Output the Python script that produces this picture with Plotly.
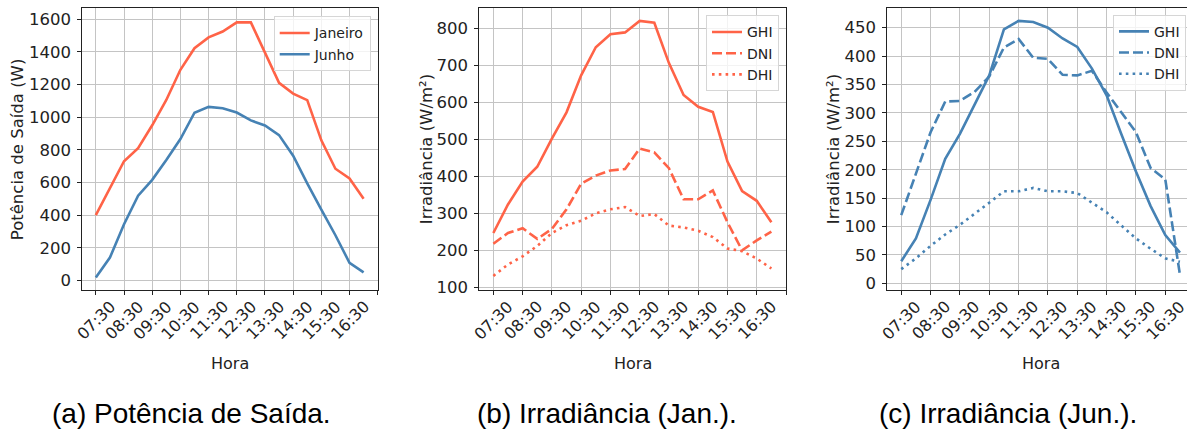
import plotly.graph_objects as go

# ---------------- data ----------------
horas = ["07:30", "08:00", "08:30", "09:00", "09:30", "10:00", "10:30", "11:00",
         "11:30", "12:00", "12:30", "13:00", "13:30", "14:00", "14:30", "15:00",
         "15:30", "16:00", "16:30", "17:00"]
tick_labels = ["07:30", "08:30", "09:30", "10:30", "11:30", "12:30", "13:30",
               "14:30", "15:30", "16:30"]

pot_janeiro = [400, 568, 730, 810, 950, 1105, 1290, 1422, 1488, 1524,
               1580, 1580, 1396, 1210, 1144, 1104, 858, 684, 624, 500]
pot_junho = [18, 140, 344, 519, 616, 737, 866, 1027, 1063, 1054,
             1028, 980, 949, 890, 764, 594, 434, 277, 108, 50]

jan_ghi = [247, 324, 386, 426, 502, 573, 673, 749, 784, 789,
           820, 815, 706, 620, 588, 574, 440, 360, 334, 276]
jan_dni = [218, 247, 260, 231, 258, 311, 380, 402, 416, 420,
           475, 465, 422, 338, 338, 362, 276, 200, 227, 251]
jan_dhi = [131, 162, 184, 212, 247, 268, 280, 300, 311, 317,
           293, 298, 267, 262, 253, 236, 205, 198, 178, 151]

jun_ghi = [39, 79, 147, 219, 263, 314, 366, 447, 462, 460,
           450, 431, 416, 378, 331, 263, 197, 136, 85, 54]
jun_dni = [120, 194, 266, 320, 321, 337, 364, 415, 430, 397,
           395, 367, 366, 374, 336, 301, 266, 203, 183, 15]
jun_dhi = [25, 44, 66, 86, 103, 122, 142, 162, 162, 168,
           162, 162, 159, 142, 125, 102, 79, 61, 44, 38]

captions = ["(a) Potência de Saída.", "(b) Irradiância (Jan.).", "(c) Irradiância (Jun.)."]
ytitles = ["Potência de Saída (W)", "Irradiância (W/m²)", "Irradiância (W/m²)"]

# ---------------- style ----------------
W, H = 1187, 439
RED = "#FF6347"
BLUE = "#4682B4"
FONT = "DejaVu Sans"
LW = 2.6
DASH = "10px,4px"
DOT = "2.6px,4.2px"

x = list(range(len(horas)))
tickvals = [horas.index(t) for t in tick_labels] + [len(horas)]


def px_x(p):
    return p / W


def px_y(p):
    return 1 - p / H


fig = go.Figure()

panels = [
    dict(xa="x", ya="y", leg="legend", series=[
        ("Janeiro", pot_janeiro, RED, "solid"),
        ("Junho", pot_junho, BLUE, "solid")]),
    dict(xa="x2", ya="y2", leg="legend2", series=[
        ("GHI", jan_ghi, RED, "solid"),
        ("DNI", jan_dni, RED, DASH),
        ("DHI", jan_dhi, RED, DOT)]),
    dict(xa="x3", ya="y3", leg="legend3", series=[
        ("GHI", jun_ghi, BLUE, "solid"),
        ("DNI", jun_dni, BLUE, DASH),
        ("DHI", jun_dhi, BLUE, DOT)]),
]

for p in panels:
    for name, vals, col, dash in p["series"]:
        fig.add_trace(go.Scatter(
            x=x, y=vals, name=name, mode="lines",
            line=dict(color=col, width=LW, dash=dash),
            xaxis=p["xa"], yaxis=p["ya"], legend=p["leg"],
        ))

# axis geometry (pixels)
x_dom = [(82.3, 377.7), (479.3, 786.0), (887.3, 1187.0)]
y_dom = [px_y(295.0), px_y(8.5)]
x_rng = [[-0.96, 20.0], [-0.96, 20.0], [-0.95, 19.48]]
y_rng = [[-56, 1666], [94, 854], [-11, 484]]
y_ticks = [list(range(0, 1601, 200)), list(range(100, 801, 100)), list(range(0, 451, 50))]

axis_common = dict(
    showline=True, linecolor="#222222", linewidth=1,
    ticks="outside", ticklen=4, tickwidth=1, tickcolor="#222222",
    showgrid=True, gridcolor="#c4c4c4", gridwidth=1, zeroline=False,
    tickfont=dict(family=FONT, size=16.5, color="#222222"),
)

for i in range(3):
    sx = "" if i == 0 else str(i + 1)
    fig.update_layout({
        "xaxis" + sx: dict(
            axis_common, domain=[px_x(x_dom[i][0]), px_x(x_dom[i][1])],
            range=x_rng[i], tickvals=tickvals, showticklabels=False,
            mirror=True, anchor="y" + sx),
        "yaxis" + sx: dict(
            axis_common, domain=y_dom, range=y_rng[i], tickvals=y_ticks[i],
            mirror=(i < 2), anchor="x" + sx, ticklabelstandoff=3),
    })

annotations = []
# rotated x tick labels (centred on tick as in the source)
for i in range(3):
    sx = "" if i == 0 else str(i + 1)
    for t in tick_labels:
        annotations.append(dict(
            x=horas.index(t), xref="x" + sx, y=px_y(326), yref="paper",
            text=t, showarrow=False, textangle=-45,
            xanchor="center", yanchor="middle",
            font=dict(family=FONT, size=16, color="#222222")))
    # x title
    cx = (x_dom[i][0] + (x_dom[i][1] if i < 2 else 1194.7)) / 2
    annotations.append(dict(
        x=px_x(cx), xref="paper", y=px_y(370), yref="paper", text="Hora",
        showarrow=False, xanchor="center", yanchor="middle",
        font=dict(family=FONT, size=16, color="#222222")))

# y titles
ytitle_x = [17, 426, 833]
for i in range(3):
    annotations.append(dict(
        x=px_x(ytitle_x[i]), xref="paper", y=px_y(152), yref="paper",
        text=ytitles[i], showarrow=False, textangle=-90,
        xanchor="center", yanchor="middle",
        font=dict(family=FONT, size=16.5, color="#222222")))

# captions
cap_x = [191.5, 606.5, 1008]
for i in range(3):
    annotations.append(dict(
        x=px_x(cap_x[i]), xref="paper", y=px_y(421), yref="paper",
        text=captions[i], showarrow=False, xanchor="center", yanchor="middle",
        font=dict(family="Liberation Sans", size=28, color="#000000")))

legend_common = dict(
    xanchor="right", yanchor="top", bgcolor="rgba(255,255,255,0.8)",
    bordercolor="#d6d6d6", borderwidth=1, itemwidth=30,
    font=dict(family=FONT, size=14, color="#222222"), tracegroupgap=0,
)

fig.update_layout(
    width=W, height=H,
    margin=dict(l=0, r=0, t=0, b=0),
    paper_bgcolor="white", plot_bgcolor="white",
    showlegend=True,
    legend=dict(legend_common, x=px_x(370.7), y=px_y(16.7)),
    legend2=dict(legend_common, x=px_x(779), y=px_y(15.7)),
    legend3=dict(legend_common, x=px_x(1186), y=px_y(15)),
    annotations=annotations,
)

fig.write_html("out.html")
